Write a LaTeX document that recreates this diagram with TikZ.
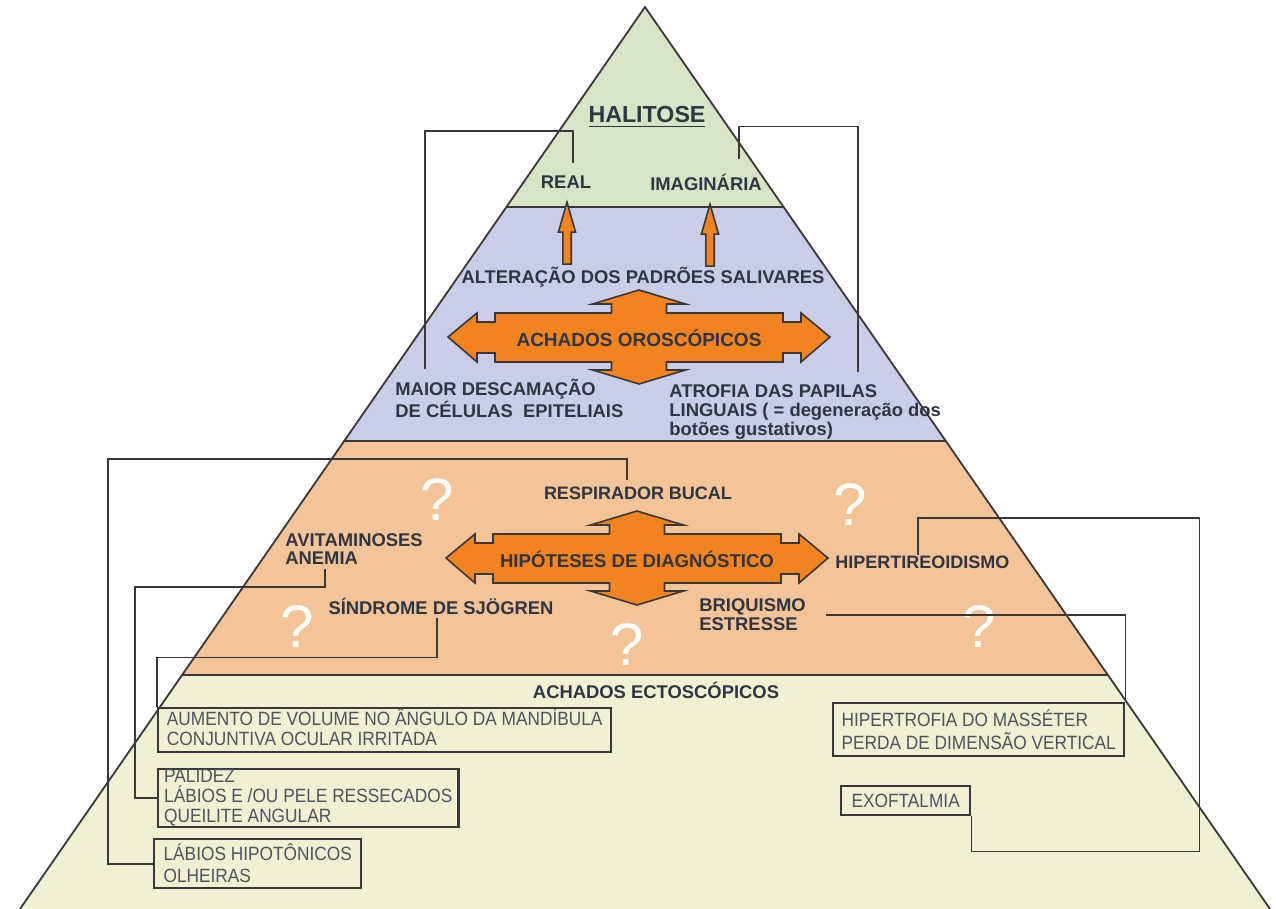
\documentclass[tikz,border=0pt]{standalone}
\usepackage{fontspec}
\setmainfont{Liberation Sans}
\newfontfamily\halboxfont[FakeStretch=0.9]{Liberation Sans}
\usepackage{xcolor}
\definecolor{halgreen}{HTML}{D8E4C6}
\definecolor{hallilac}{HTML}{C9CDE8}
\definecolor{halpeach}{HTML}{F2C498}
\definecolor{halcream}{HTML}{F2F0D3}
\definecolor{halorange}{HTML}{F2841F}
\definecolor{halink}{HTML}{2F3542}
\definecolor{halline}{HTML}{383838}
\usetikzlibrary{calc,shapes.arrows}
\tikzset{
  halband/.style={draw=halline,line width=0.9pt,line join=round},
  hallabel/.style={font=\fontsize{9.2}{9.6}\selectfont\bfseries,text=halink,inner sep=1pt,align=left},
  halconn/.style={draw=halline,line width=0.8pt},
  halbox/.style={draw=halline,line width=1.2pt,anchor=north west,inner xsep=3pt,inner ysep=0pt,align=left,font=\halboxfont\fontsize{9.6}{10}\selectfont,text=halink!85},
  halcross/.style={draw=halline,fill=halorange,line width=0.8pt},
  halup/.style={single arrow,draw=halline,fill=halorange,line width=0.8pt,rotate=90,anchor=tail,inner xsep=0pt,inner ysep=1.7pt,minimum height=31pt,single arrow head extend=2.2pt,single arrow tip angle=32},
  halquery/.style={font=\fontsize{30}{30}\selectfont,text=white,inner sep=0pt},
}
\begin{document}
\begin{tikzpicture}[x=0.5pt,y=-0.5pt]
\fill[white] (0,0) rectangle (1276,909);
\useasboundingbox (0,0) rectangle (1276,909);
\filldraw[halband,fill=halgreen] (645,7) -- (783.6,207) -- (506.4,207) -- cycle;
\filldraw[halband,fill=hallilac] (506.4,207) -- (783.6,207) -- (945.8,441) -- (344.2,441) -- cycle;
\filldraw[halband,fill=halpeach] (344.2,441) -- (945.8,441) -- (1107.9,675) -- (182.1,675) -- cycle;
\fill[halcream] (182.1,675) -- (1107.9,675) -- (1270,909) -- (20,909) -- cycle;
\draw[halband] (20,909) -- (182.1,675) -- (1107.9,675) -- (1270,909);

\foreach \cx/\cy in {639/337,637/558}{
  \draw[halcross,shift={(\cx,\cy)}] (0,-47) -- (46.5,-33) -- (27.5,-33) -- (27.5,-24) -- (144,-24) -- (144,-15) -- (162,-15) -- (162,-24) -- (191,0) -- (162,25) -- (162,16) -- (144,16) -- (144,25) -- (27.5,25) -- (27.5,33) -- (46.5,33) -- (0,47) -- (-46.5,33) -- (-27.5,33) -- (-27.5,25) -- (-144,25) -- (-144,16) -- (-162,16) -- (-162,25) -- (-191,0) -- (-162,-24) -- (-162,-15) -- (-144,-15) -- (-144,-24) -- (-27.5,-24) -- (-27.5,-33) -- (-46.5,-33) -- cycle;
}
\node[halup] (upreal) at (567,265) {};
\node[halup] (upimag) at (710,267) {};

\node[hallabel,font=\fontsize{11.6}{12}\selectfont\bfseries] (halitose) at (647,117) {\underline{HALITOSE}};
\node[hallabel] (real) at (566,182) {REAL};
\node[hallabel] (imag) at (706,182) {IMAGINÁRIA};
\node[hallabel] (alter) at (643,277) {ALTERAÇÃO DOS PADRÕES SALIVARES};
\node[hallabel,font=\fontsize{9.5}{10}\selectfont\bfseries] (achoro) at (639,338) {ACHADOS OROSCÓPICOS};
\node[hallabel,anchor=west,font=\fontsize{9.2}{10}\selectfont\bfseries] (maior) at (393,398) {MAIOR DESCAMAÇÃO\\DE CÉLULAS\ \ EPITELIAIS};
\node[hallabel,anchor=west] (atrofia) at (667,412) {ATROFIA DAS PAPILAS\\LINGUAIS ( = degeneração dos\\botões gustativos)};
\node[hallabel,font=\fontsize{9}{9.6}\selectfont\bfseries] (resp) at (638,493) {RESPIRADOR BUCAL};
\node[hallabel,font=\fontsize{9.3}{10}\selectfont\bfseries] (hipot) at (637,559) {HIPÓTESES DE DIAGNÓSTICO};
\node[hallabel,anchor=west,font=\fontsize{9.2}{9}\selectfont\bfseries] (avit) at (283,549) {AVITAMINOSES\\ANEMIA};
\node[hallabel] (sjog) at (441,606) {SÍNDROME DE SJÖGREN};
\node[hallabel,anchor=west,font=\fontsize{9}{9.6}\selectfont\bfseries] (hiper) at (833,562) {HIPERTIREOIDISMO};
\node[hallabel,anchor=west] (briq) at (697,615) {BRIQUISMO\\ESTRESSE};
\node[hallabel] (ecto) at (656,690) {ACHADOS ECTOSCÓPICOS};
\foreach \qx/\qy [count=\qi] in {437/500,850/505,297/627,627/645,979/627}
  \node[halquery] (query\qi) at (\qx,\qy) {?};

\node[halbox,minimum width=226.5pt,minimum height=22pt] (b1) at (157,707) {AUMENTO DE VOLUME NO ÂNGULO DA MANDÍBULA\\CONJUNTIVA OCULAR IRRITADA\rule[-3pt]{0pt}{0pt}};
\node[halbox,minimum width=149.5pt,minimum height=29pt] (b2) at (157,768) {PALIDEZ\\LÁBIOS E /OU PELE RESSECADOS\\QUEILITE ANGULAR};
\node[halbox,minimum width=103.5pt,minimum height=24.5pt,font=\halboxfont\fontsize{9.6}{11}\selectfont] (b3) at (153,838) {LÁBIOS HIPOTÔNICOS\\OLHEIRAS};
\node[halbox,minimum width=145.5pt,minimum height=26.5pt,font=\halboxfont\fontsize{9.6}{11.5}\selectfont] (b4) at (832,702) {HIPERTROFIA DO MASSÉTER\\PERDA DE DIMENSÃO VERTICAL};
\node[halbox,minimum width=64.5pt,minimum height=14.5pt] (b5) at (840,785) {EXOFTALMIA};

\draw[halconn] ($(real.north)+(7,-10)$) -- ++(0,-32) -| ($(maior.north west)+(32,-7)$);
\draw[halconn] ($(imag.north)+(33,-12)$) -- ++(0,-33) -| ($(atrofia.north west)+(191,-10)$);
\draw[halconn] ($(resp.north)+(-11,-4)$) -- ++(0,-21) -| ($(b3.west)+(-45,0)$) -- (b3.west);
\draw[halconn] ($(avit.south west)+(42,2)$) -- ++(0,18) -| ($(b2.west)+(-22,0)$) -- (b2.west);
\draw[halconn] ($(sjog.south)+(-4,1)$) -- ++(0,40) -| (b1.north west);
\draw[halconn] ($(hiper.north west)+(85,2)$) -- ++(0,-37) -| ($(b5.south east)+(228,35)$) -| (b5.south east);
\draw[halconn] ($(briq.west)+(129,0)$) -| (b4.north east);
\end{tikzpicture}
\end{document}
